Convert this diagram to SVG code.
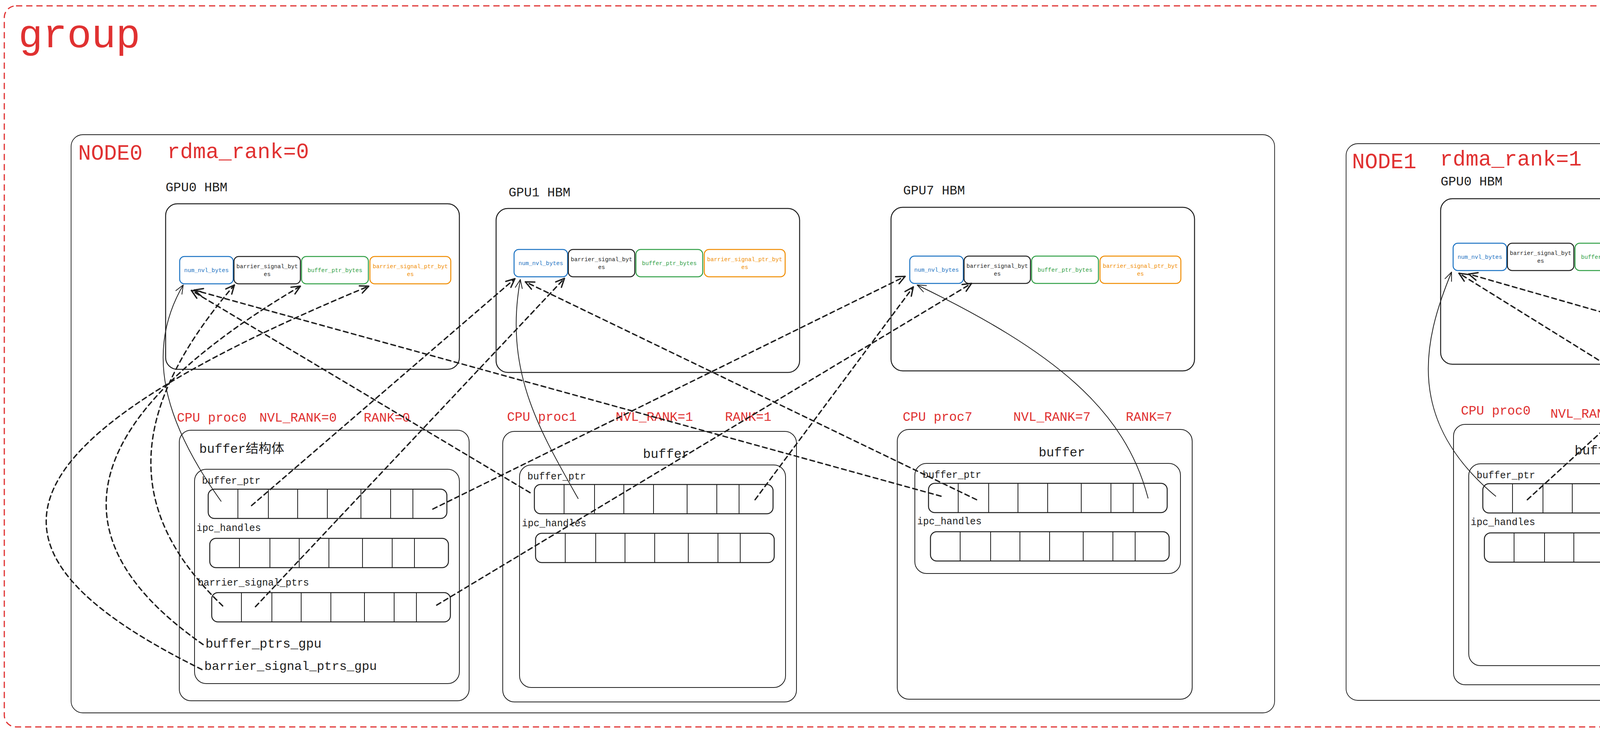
<svg xmlns="http://www.w3.org/2000/svg" width="6620" height="1875" viewBox="0 0 6620 1875">
<style>
.f{font-family:"Liberation Mono","DejaVu Sans Mono","Noto Sans CJK SC",monospace}
.r{fill:#e03131}
.k{fill:#1e1e1e}
.s33{font-size:33px}
.s32{font-size:32px}
.s25{font-size:25px}
.s55{font-size:55px}
.ct{font-size:14.6px;text-anchor:middle}
.nb{fill:none;stroke:#1e1e1e;stroke-width:1.8}
.ln{fill:none;stroke:#1e1e1e;stroke-width:2}
.gb{fill:none;stroke:#1e1e1e;stroke-width:2.5}
.cb{fill:none;stroke:#1971c2;stroke-width:2.5}
.ck{fill:none;stroke:#1e1e1e;stroke-width:2.5}
.cg{fill:none;stroke:#2f9e44;stroke-width:2.5}
.co{fill:none;stroke:#f08c00;stroke-width:2.5}
.tb{fill:#1971c2}
.tg{fill:#2f9e44}
.to{fill:#f08c00}
#conn path{fill:none;stroke:#1e1e1e;stroke-linecap:round}
#conn .d{stroke-width:3.5;stroke-dasharray:12 9;marker-end:url(#ahd)}
#conn .s{stroke-width:2;marker-end:url(#ahs)}
</style>
<defs>
<marker id="ahd" markerUnits="userSpaceOnUse" viewBox="-30 -20 40 40" markerWidth="40" markerHeight="40" refX="0" refY="0" orient="auto">
<path d="M-22,-10 L0,0 L-22,10" fill="none" stroke="#1e1e1e" stroke-width="3.5" stroke-dasharray="none" stroke-linecap="round" stroke-linejoin="round"/>
</marker>
<marker id="ahs" markerUnits="userSpaceOnUse" viewBox="-30 -20 40 40" markerWidth="40" markerHeight="40" refX="0" refY="0" orient="auto">
<path d="M-22,-9 L0,0 L-22,9" fill="none" stroke="#1e1e1e" stroke-width="2" stroke-linecap="round" stroke-linejoin="round"/>
</marker>
<g id="arr">
<rect x="0" y="0" width="611" height="75" rx="16" fill="none" stroke="#1e1e1e" stroke-width="2.5"/>
<path d="M76 0V75M154 0V75M229 0V75M305 0V75M391 0V75M467 0V75M524 0V75" fill="none" stroke="#1e1e1e" stroke-width="2"/>
</g>
</defs>

<g id="group">
<rect x="11" y="15" width="6601" height="1847" rx="30" fill="none" stroke="#e03131" stroke-width="3" stroke-dasharray="16 10"/>
<text class="f r" x="47" y="121" font-size="104">group</text>
</g>

<g id="node0">
<rect class="nb" x="182" y="345" width="3081" height="1481" rx="30"/>
<text class="f r s55" x="200" y="409">NODE0</text>
<text class="f r s55" x="428" y="405">rdma_rank=0</text>
</g>

<g id="node0-gpu0">
<text class="f k s33" x="424" y="490">GPU0 HBM</text>
<rect class="gb" x="424" y="522" width="752" height="424" rx="30"/>
<g transform="translate(460,657)">
<rect class="cb" width="137" height="70" rx="12"/>
<text class="f ct tb" x="68.5" y="40">num_nvl_bytes</text>
<rect class="ck" x="139" width="170" height="70" rx="12"/>
<text class="f ct k" x="224" y="30">barrier_signal_byt<tspan x="224" dy="20">es</tspan></text>
<rect class="cg" x="312" width="171" height="70" rx="12"/>
<text class="f ct tg" x="397.5" y="40">buffer_ptr_bytes</text>
<rect class="co" x="487" width="207" height="70" rx="12"/>
<text class="f ct to" x="590.5" y="30">barrier_signal_ptr_byt<tspan x="590.5" dy="20">es</tspan></text>
</g>
</g>

<g id="node0-gpu1">
<text class="f k s33" x="1302" y="503">GPU1 HBM</text>
<rect class="gb" x="1270" y="534" width="777" height="420" rx="30"/>
<g transform="translate(1316,639)">
<rect class="cb" width="137" height="70" rx="12"/>
<text class="f ct tb" x="68.5" y="40">num_nvl_bytes</text>
<rect class="ck" x="139" width="170" height="70" rx="12"/>
<text class="f ct k" x="224" y="30">barrier_signal_byt<tspan x="224" dy="20">es</tspan></text>
<rect class="cg" x="312" width="171" height="70" rx="12"/>
<text class="f ct tg" x="397.5" y="40">buffer_ptr_bytes</text>
<rect class="co" x="487" width="207" height="70" rx="12"/>
<text class="f ct to" x="590.5" y="30">barrier_signal_ptr_byt<tspan x="590.5" dy="20">es</tspan></text>
</g>
</g>

<g id="node0-gpu7">
<text class="f k s33" x="2312" y="498">GPU7 HBM</text>
<rect class="gb" x="2281" y="531" width="777" height="419" rx="30"/>
<g transform="translate(2329,656)">
<rect class="cb" width="137" height="70" rx="12"/>
<text class="f ct tb" x="68.5" y="40">num_nvl_bytes</text>
<rect class="ck" x="139" width="170" height="70" rx="12"/>
<text class="f ct k" x="224" y="30">barrier_signal_byt<tspan x="224" dy="20">es</tspan></text>
<rect class="cg" x="312" width="171" height="70" rx="12"/>
<text class="f ct tg" x="397.5" y="40">buffer_ptr_bytes</text>
<rect class="co" x="487" width="207" height="70" rx="12"/>
<text class="f ct to" x="590.5" y="30">barrier_signal_ptr_byt<tspan x="590.5" dy="20">es</tspan></text>
</g>
</g>

<g id="node0-proc0">
<text class="f r s33" x="453" y="1080">CPU proc0</text>
<text class="f r s33" x="664" y="1080">NVL_RANK=0</text>
<text class="f r s33" x="931" y="1080">RANK=0</text>
<rect class="ln" x="459" y="1102" width="742" height="693" rx="30"/>
<rect class="ln" x="498" y="1202" width="678" height="549" rx="30"/>
<text class="f k s33" x="510" y="1160">buffer结构体</text>
<text class="f k s25" x="517" y="1239">buffer_ptr</text>
<use href="#arr" x="533" y="1253"/>
<text class="f k s25" x="503" y="1360">ipc_handles</text>
<use href="#arr" x="537" y="1379"/>
<text class="f k s25" x="506" y="1500">barrier_signal_ptrs</text>
<use href="#arr" x="542" y="1518"/>
<text class="f k s33" x="526" y="1659">buffer_ptrs_gpu</text>
<text class="f k s32" x="523" y="1716">barrier_signal_ptrs_gpu</text>
</g>

<g id="node0-proc1">
<text class="f r s33" x="1298" y="1078">CPU proc1</text>
<text class="f r s33" x="1576" y="1078">NVL_RANK=1</text>
<text class="f r s33" x="1856" y="1078">RANK=1</text>
<rect class="ln" x="1287" y="1105" width="752" height="693" rx="30"/>
<rect class="ln" x="1330" y="1191" width="681" height="570" rx="30"/>
<text class="f k s33" x="1646" y="1173">buffer</text>
<text class="f k s25" x="1350" y="1228">buffer_ptr</text>
<use href="#arr" x="1368" y="1241"/>
<text class="f k s25" x="1336" y="1348">ipc_handles</text>
<use href="#arr" x="1371" y="1366"/>
</g>

<g id="node0-proc7">
<text class="f r s33" x="2311" y="1078">CPU proc7</text>
<text class="f r s33" x="2594" y="1078">NVL_RANK=7</text>
<text class="f r s33" x="2882" y="1078">RANK=7</text>
<rect class="ln" x="2297" y="1100" width="755" height="691" rx="30"/>
<rect class="ln" x="2342" y="1187" width="680" height="282" rx="30"/>
<text class="f k s33" x="2659" y="1169">buffer</text>
<text class="f k s25" x="2362" y="1224">buffer_ptr</text>
<use href="#arr" x="2377" y="1238"/>
<text class="f k s25" x="2348" y="1343">ipc_handles</text>
<use href="#arr" x="2382" y="1362"/>
</g>

<g id="node1">
<rect class="nb" x="3446" y="368" width="3081" height="1426" rx="30"/>
<text class="f r s55" x="3461" y="431">NODE1</text>
<text class="f r s55" x="3686" y="424">rdma_rank=1</text>
</g>

<g id="node1-gpu0">
<text class="f k s33" x="3688" y="475">GPU0 HBM</text>
<rect class="gb" x="3688" y="509" width="751" height="424" rx="30"/>
<g transform="translate(3720,623)">
<rect class="cb" width="137" height="70" rx="12"/>
<text class="f ct tb" x="68.5" y="40">num_nvl_bytes</text>
<rect class="ck" x="139" width="170" height="70" rx="12"/>
<text class="f ct k" x="224" y="30">barrier_signal_byt<tspan x="224" dy="20">es</tspan></text>
<rect class="cg" x="312" width="171" height="70" rx="12"/>
<text class="f ct tg" x="397.5" y="40">buffer_ptr_bytes</text>
<rect class="co" x="487" width="207" height="70" rx="12"/>
<text class="f ct to" x="590.5" y="30">barrier_signal_ptr_byt<tspan x="590.5" dy="20">es</tspan></text>
</g>
</g>

<g id="node1-gpu1">
<text class="f k s33" x="4565" y="488">GPU1 HBM</text>
<rect class="gb" x="4533" y="521" width="777" height="419" rx="30"/>
<g transform="translate(4573,619)">
<rect class="cb" width="137" height="70" rx="12"/>
<text class="f ct tb" x="68.5" y="40">num_nvl_bytes</text>
<rect class="ck" x="139" width="170" height="70" rx="12"/>
<text class="f ct k" x="224" y="30">barrier_signal_byt<tspan x="224" dy="20">es</tspan></text>
<rect class="cg" x="312" width="171" height="70" rx="12"/>
<text class="f ct tg" x="397.5" y="40">buffer_ptr_bytes</text>
<rect class="co" x="487" width="207" height="70" rx="12"/>
<text class="f ct to" x="590.5" y="30">barrier_signal_ptr_byt<tspan x="590.5" dy="20">es</tspan></text>
</g>
</g>

<g id="node1-gpu7">
<text class="f k s33" x="5575" y="483">GPU7 HBM</text>
<rect class="gb" x="5545" y="517" width="775" height="419" rx="30"/>
<g transform="translate(5587,618)">
<rect class="cb" width="137" height="70" rx="12"/>
<text class="f ct tb" x="68.5" y="40">num_nvl_bytes</text>
<rect class="ck" x="139" width="170" height="70" rx="12"/>
<text class="f ct k" x="224" y="30">barrier_signal_byt<tspan x="224" dy="20">es</tspan></text>
<rect class="cg" x="312" width="171" height="70" rx="12"/>
<text class="f ct tg" x="397.5" y="40">buffer_ptr_bytes</text>
<rect class="co" x="487" width="207" height="70" rx="12"/>
<text class="f ct to" x="590.5" y="30">barrier_signal_ptr_byt<tspan x="590.5" dy="20">es</tspan></text>
</g>
</g>

<g id="node1-proc0">
<text class="f r s33" x="3740" y="1062">CPU proc0</text>
<text class="f r s33" x="3969" y="1070">NVL_RANK=0</text>
<text class="f r s33" x="4237" y="1068">RANK=8</text>
<rect class="ln" x="3721" y="1087" width="743" height="667" rx="30"/>
<rect class="ln" x="3760" y="1188" width="681" height="517" rx="30"/>
<text class="f k s33" x="4031" y="1164">buffer</text>
<text class="f k s25" x="3780" y="1225">buffer_ptr</text>
<use href="#arr" x="3796" y="1239"/>
<text class="f k s25" x="3765" y="1345">ipc_handles</text>
<use href="#arr" x="3800" y="1365"/>
</g>

<g id="node1-proc1">
<text class="f r s33" x="4563" y="1056">CPU proc1</text>
<text class="f r s33" x="4839" y="1062">NVL_RANK=1</text>
<text class="f r s33" x="5108" y="1060">RANK=9</text>
<rect class="ln" x="4550" y="1090" width="753" height="673" rx="30"/>
<rect class="ln" x="4594" y="1176" width="680" height="553" rx="30"/>
<text class="f k s33" x="4910" y="1161">buffer</text>
<text class="f k s25" x="4614" y="1214">buffer_ptr</text>
<use href="#arr" x="4630" y="1227"/>
<text class="f k s25" x="4599" y="1333">ipc_handles</text>
<use href="#arr" x="4635" y="1353"/>
</g>

<g id="node1-proc7">
<text class="f r s33" x="5575" y="1062">CPU proc7</text>
<text class="f r s33" x="5886" y="1068">NVL_RANK=7</text>
<text class="f r s33" x="6152" y="1066">RANK=15</text>
<rect class="ln" x="5561" y="1087" width="754" height="667" rx="30"/>
<rect class="ln" x="5606" y="1172" width="680" height="546" rx="30"/>
<text class="f k s33" x="5922" y="1156">buffer</text>
<text class="f k s25" x="5625" y="1211">buffer_ptr</text>
<use href="#arr" x="5640" y="1224"/>
<text class="f k s25" x="5609" y="1330">ipc_handles</text>
<use href="#arr" x="5646" y="1349"/>
</g>

<g id="conn">
<path class="s" d="M566 1284 C420 1080 370 900 469 730"/>
<path class="s" d="M1480 1277 C1380 1100 1290 950 1332 716"/>
<path class="s" d="M2939 1276 C2880 1050 2700 900 2348 730"/>
<path class="d" d="M644 1295 L1318 714"/>
<path class="d" d="M1108 1304 L2317 708"/>
<path class="d" d="M654 1554 L1445 713"/>
<path class="d" d="M1118 1550 L2487 726"/>
<path class="d" d="M1357 1262 L490 744"/>
<path class="d" d="M1933 1280 L2338 735"/>
<path class="d" d="M2409 1271 L497 743"/>
<path class="d" d="M2500 1280 L1345 722"/>
<path class="d" d="M570 1552 C340 1330 300 1080 600 730"/>
<path class="d" d="M520 1651 C160 1400 150 1100 769 733"/>
<path class="d" d="M517 1715 C-80 1420 -60 1150 944 733"/>
<path class="s" d="M3829 1271 C3600 1080 3640 880 3716 697"/>
<path class="s" d="M4745 1266 C4570 1110 4510 900 4579 695"/>
<path class="s" d="M6200 1266 C6140 1050 6000 900 5604 712"/>
<path class="d" d="M3910 1280 L4562 682"/>
<path class="d" d="M4362 1277 L5589 690"/>
<path class="d" d="M4645 1266 L3735 700"/>
<path class="d" d="M5198 1264 L5590 712"/>
<path class="d" d="M5680 1252 L3760 702"/>
<path class="d" d="M5754 1260 L4599 704"/>
</g>
</svg>
